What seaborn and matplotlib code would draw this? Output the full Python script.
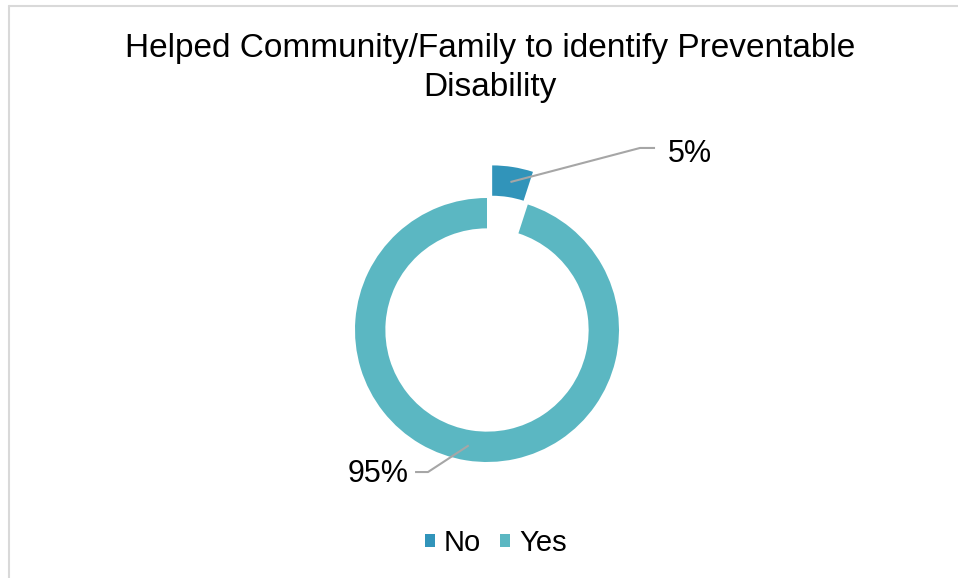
import numpy as np
import matplotlib
matplotlib.use("Agg")
import matplotlib.pyplot as plt
from matplotlib.lines import Line2D
from matplotlib.patches import Rectangle
import seaborn as sns

categories = ["No", "Yes"]
shares = [5, 95]
labels = ["5%", "95%"]
colors = ["#3194BA", "#5BB7C2"]

sns.set_theme(style="white")
plt.rcParams["font.family"] = ["Liberation Sans", "DejaVu Sans"]

W, H = 958, 578
fig = plt.figure(figsize=(W / 100, H / 100), dpi=100)

# light frame along the top and left edges
fig.add_artist(Line2D([9 / W, 9 / W], [0, 1 - 6 / H], color="#D9D9D9", lw=1.5))
fig.add_artist(Line2D([9 / W, 1], [1 - 6 / H, 1 - 6 / H], color="#D9D9D9", lw=1.5))

# donut: center (487, 330) px, radius 132 px
cx, cy, R, half = 487, 330, 132, 200
ax = fig.add_axes([(cx - half) / W, (H - cy - half) / H, 2 * half / W, 2 * half / H])

ring = 0.23
explode = [0.25, 0.0]
wedges, _ = ax.pie(shares, colors=colors, startangle=90, counterclock=False,
                   explode=explode, radius=1.0,
                   wedgeprops=dict(width=ring, edgecolor="none"))

lim = half / R
ax.set_xlim(-lim, lim)
ax.set_ylim(-lim, lim)
ax.set_aspect("equal")
ax.axis("off")

# leader lines and percentage labels
total = sum(shares)
start = 0.0
layout = [
    dict(elbow=(1.159, 1.379), end=(1.273, 1.379), text=(1.37, 1.335), ha="left"),
    dict(elbow=(-0.447, -1.076), end=(-0.545, -1.076), text=(-0.59, -1.09), ha="right"),
]
for share, lab, exp, lay in zip(shares, labels, explode, layout):
    mid = np.deg2rad(start + share / total * 360 / 2)
    start += share / total * 360
    dx, dy = np.sin(mid), np.cos(mid)
    r_anchor = 1 - ring / 2 + exp
    ax_, ay_ = r_anchor * dx, r_anchor * dy
    ex, ey = lay["elbow"]
    fx, fy = lay["end"]
    ax.plot([ax_, ex, fx], [ay_, ey, fy], color="#A6A6A6", lw=1.5,
            solid_capstyle="butt", clip_on=False)
    ax.text(lay["text"][0], lay["text"][1], lab, ha=lay["ha"], va="center",
            fontsize=22, color="#000000", clip_on=False)

fig.text(490 / W, 1 - 68 / H,
         "Helped Community/Family to identify Preventable\nDisability",
         ha="center", va="center", fontsize=24, color="#000000", linespacing=1.32)

handles = [Rectangle((0, 0), 1, 1, facecolor=c, edgecolor="none") for c in colors]
fig.legend(handles, categories, loc="center", bbox_to_anchor=(496 / W, 1 - 543 / H),
           ncol=2, frameon=False, fontsize=21, handlelength=0.35, handleheight=0.35,
           handletextpad=0.3, columnspacing=0.65, labelcolor="#000000",
           borderpad=0, borderaxespad=0)

fig.savefig("out.png", dpi=100, facecolor="white")
